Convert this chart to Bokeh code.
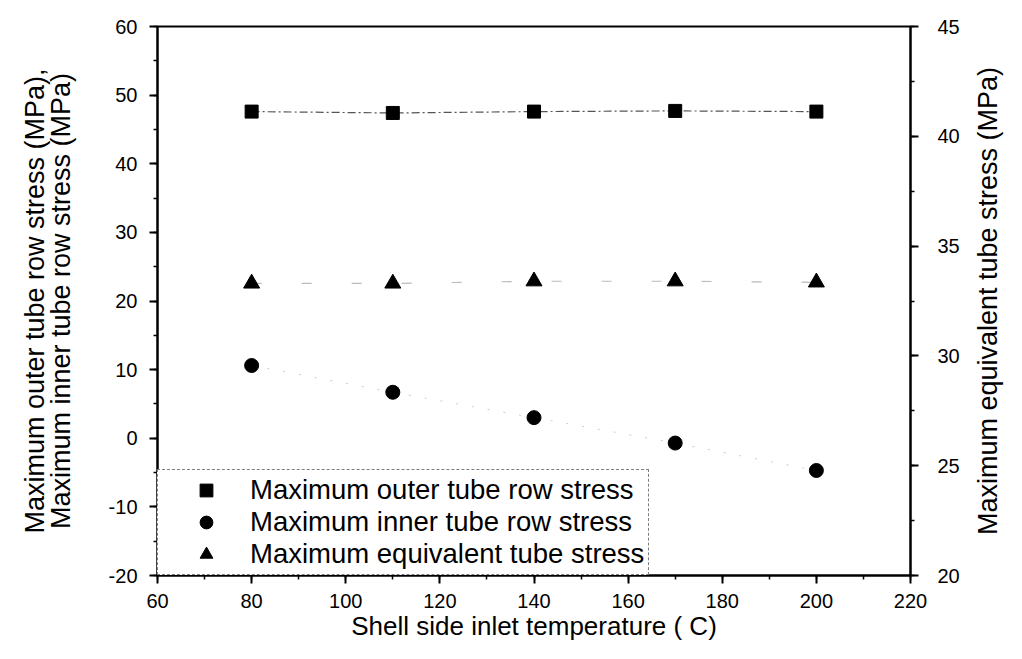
from bokeh.plotting import figure
from bokeh.layouts import row
from bokeh.models import (LinearAxis, Range1d, Legend, LegendItem, FixedTicker,
                          SingleIntervalTicker, PrintfTickFormatter)
from bokeh.embed import file_html
from bokeh.resources import INLINE

# ---- data ----
temperature = [80, 110, 140, 170, 200]
outer_stress = [47.6, 47.4, 47.6, 47.7, 47.6]      # left axis (MPa)
inner_stress = [10.6, 6.7, 3.0, -0.7, -4.7]        # left axis (MPa)
equiv_stress = [33.3, 33.3, 33.4, 33.4, 33.35]     # right axis (MPa)

x_ticks = [60, 80, 100, 120, 140, 160, 180, 200, 220]
left_ticks = [-20, -10, 0, 10, 20, 30, 40, 50, 60]
right_ticks = [20, 25, 30, 35, 40, 45]

FONT = "Liberation Sans"

p = figure(width=962, height=643, output_backend="svg", toolbar_location=None,
           x_range=Range1d(60, 220), y_range=Range1d(-20, 60),
           min_border_left=157, min_border_right=51, min_border_top=26,
           min_border_bottom=68)
p.extra_y_ranges = {"right": Range1d(20, 45)}

p.grid.visible = False
p.outline_line_color = "black"
p.outline_line_width = 2
p.background_fill_color = "white"
p.border_fill_color = "white"

def style_axis(ax, standoff, title_standoff, title_size):
    ax.axis_line_width = 2
    ax.axis_line_color = "black"
    ax.major_tick_line_width = 2
    ax.minor_tick_line_width = 1.5
    ax.major_tick_out = 8
    ax.major_tick_in = 0
    ax.minor_tick_out = 4
    ax.minor_tick_in = 0
    ax.formatter = PrintfTickFormatter(format="%d")
    ax.major_label_text_font = FONT
    ax.major_label_text_font_size = "20px"
    ax.major_label_text_color = "black"
    ax.major_label_standoff = standoff
    ax.axis_label_text_font = FONT
    ax.axis_label_text_font_size = title_size
    ax.axis_label_text_font_style = "normal"
    ax.axis_label_text_color = "black"
    ax.axis_label_standoff = title_standoff

xa = p.xaxis[0]
xa.ticker = SingleIntervalTicker(interval=20, num_minor_ticks=2)
xa.axis_label = "Shell side inlet temperature ( C)"
style_axis(xa, 10, 0, "26px")

ya = p.yaxis[0]
ya.ticker = SingleIntervalTicker(interval=10, num_minor_ticks=2)
ya.axis_label = "Maximum outer tube row stress (MPa),\nMaximum inner tube row stress (MPa)"
style_axis(ya, 12, 30, "27px")
ya.axis_label_text_line_height = 0.86

ra = LinearAxis(y_range_name="right",
                ticker=SingleIntervalTicker(interval=5, num_minor_ticks=2))
style_axis(ra, 19, 0, "27px")
p.add_layout(ra, "right")

# connecting lines (faint in the scanned original)
p.line(temperature, outer_stress, line_color="#555555", line_width=1.2,
       line_dash="8 3 2 3")
p.line(temperature, inner_stress, line_color="#cccccc", line_width=1,
       line_dash="2 14")
p.line(temperature, equiv_stress, y_range_name="right", line_color="#bbbbbb",
       line_width=1.2, line_dash="10 40")

r_sq = p.scatter(temperature, outer_stress, marker="square", size=13,
                 fill_color="black", line_color="black")
r_ci = p.scatter(temperature, inner_stress, marker="circle", size=14,
                 fill_color="black", line_color="black")
r_tr = p.scatter(temperature, equiv_stress, y_range_name="right",
                 marker="triangle", size=16, fill_color="black", line_color="black")

legend = Legend(items=[
    LegendItem(label="Maximum outer tube row stress", renderers=[r_sq]),
    LegendItem(label="Maximum inner tube row stress", renderers=[r_ci]),
    LegendItem(label="Maximum equivalent tube stress", renderers=[r_tr]),
], location="bottom_left")
legend.margin = 0
legend.padding = 4
legend.spacing = 0
legend.glyph_width = 88
legend.glyph_height = 32
legend.label_height = 32
legend.label_standoff = 0
legend.label_text_font = FONT
legend.label_text_font_size = "27.5px"
legend.label_text_color = "black"
legend.border_line_color = "black"
legend.border_line_dash = "1 2"
legend.border_line_width = 1.5
legend.background_fill_color = "white"
legend.background_fill_alpha = 1.0
p.add_layout(legend, "center")

# narrow companion figure that carries the right-hand title (reads bottom-to-top)
p2 = figure(width=44, height=643, output_backend="svg", toolbar_location=None,
            y_range=Range1d(20, 45), x_range=Range1d(0, 1),
            min_border_left=40, min_border_right=0, min_border_top=26,
            min_border_bottom=68)
p2.xaxis.visible = False
p2.grid.visible = False
p2.outline_line_color = None
p2.background_fill_color = "white"
p2.border_fill_color = "white"
y2 = p2.yaxis[0]
y2.ticker = FixedTicker(ticks=[])
y2.axis_line_color = None
y2.major_tick_out = 0
y2.minor_tick_out = 0
y2.axis_label = "Maximum equivalent tube stress (MPa)"
y2.axis_label_text_font = FONT
y2.axis_label_text_font_size = "27px"
y2.axis_label_text_font_style = "normal"
y2.axis_label_text_color = "black"
y2.axis_label_standoff = 0

layout = row(p, p2)
open("out.html", "w").write(file_html(layout, INLINE))
